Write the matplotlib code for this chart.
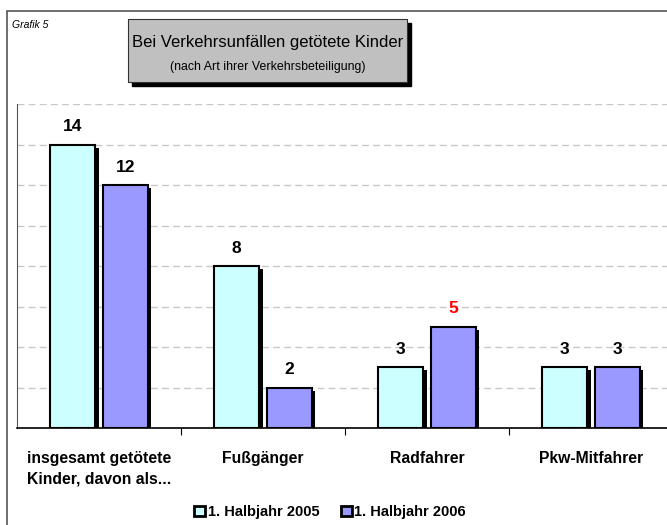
import matplotlib
matplotlib.use("Agg")
import matplotlib.pyplot as plt
import matplotlib.patheffects as pe
from matplotlib.patches import Rectangle
import numpy as np

categories = ["insgesamt getötete\nKinder, davon als...", "Fußgänger", "Radfahrer", "Pkw-Mitfahrer"]
values_2005 = [14, 8, 3, 3]
values_2006 = [12, 2, 5, 3]
series_names = ["1. Halbjahr 2005", "1. Halbjahr 2006"]
label_colors_2006 = ["black", "black", "red", "black"]

plt.rcParams['font.family'] = ['Liberation Sans', 'DejaVu Sans']

W, H = 667, 525
fig = plt.figure(figsize=(W / 100, H / 100), dpi=100)

# outer frame (cropped at right and bottom)
fig.add_artist(Rectangle((7 / W, -0.1), 1.2, 1 - 11 / H + 0.1, transform=fig.transFigure,
                         fill=False, edgecolor='#555555', linewidth=1.2))

fig.text(12 / W, 1 - 25 / H, "Grafik 5", fontsize=7.5, style='italic', va='center', ha='left')

# title box with shadow
bx0, by0, bx1, by1 = 128, 19, 407, 82
fig.add_artist(Rectangle(((bx0 + 4) / W, 1 - (by1 + 4) / H), (bx1 - bx0) / W, (by1 - by0) / H,
                         transform=fig.transFigure, facecolor='black', edgecolor='black'))
fig.add_artist(Rectangle((bx0 / W, 1 - by1 / H), (bx1 - bx0) / W, (by1 - by0) / H,
                         transform=fig.transFigure, facecolor='#c0c0c0', edgecolor='#333333', linewidth=0.8))
fig.text((bx0 + bx1) / 2 / W, 1 - 42 / H, "Bei Verkehrsunfällen getötete Kinder",
         fontsize=12, ha='center', va='center')
fig.text((bx0 + bx1) / 2 / W, 1 - 67 / H, "(nach Art ihrer Verkehrsbeteiligung)",
         fontsize=8.9, ha='center', va='center')

ax_left, ax_right, ax_top, ax_bot = 17, 673, 104, 428
ax = fig.add_axes([ax_left / W, 1 - ax_bot / H, (ax_right - ax_left) / W, (ax_bot - ax_top) / H])

x = np.arange(len(categories))
bw = 0.275
off = 0.16
shadow = [pe.SimplePatchShadow(offset=(2.3, -2.3), shadow_rgbFace='black', alpha=1), pe.Normal()]
b1 = ax.bar(x - off, values_2005, bw, color='#CCFFFF', edgecolor='black', linewidth=1.5, zorder=3)
b2 = ax.bar(x + off, values_2006, bw, color='#9999FF', edgecolor='black', linewidth=1.5, zorder=3)
for b in list(b1) + list(b2):
    b.set_path_effects(shadow)

for i, v in enumerate(values_2005):
    ax.text(x[i] - off, v + 0.88, str(v), ha='center', va='center', fontsize=12.5, fontweight='bold')
for i, v in enumerate(values_2006):
    ax.text(x[i] + off, v + 0.88, str(v), ha='center', va='center', fontsize=12.5,
            fontweight='bold', color=label_colors_2006[i])

ax.set_xlim(-0.5, len(categories) - 0.5)
ax.set_ylim(0, 16)
ax.set_yticks(np.arange(2, 17, 2))
ax.yaxis.grid(True, linestyle=(0, (5, 3)), color='#c8c8c8', linewidth=1)
ax.tick_params(axis='y', left=False, labelleft=False)
ax.set_xticks(np.arange(0.5, len(categories) - 0.5, 1))
ax.set_xticklabels([])
ax.tick_params(axis='x', direction='out', length=5, width=0.8)
for s in ['top', 'right']:
    ax.spines[s].set_visible(False)
ax.spines['left'].set_color('#555555')
ax.spines['bottom'].set_linewidth(1.2)

for i, c in enumerate(categories):
    ax.text(x[i], -1.12, c, ha='center', va='top', fontsize=11.3, fontweight='bold',
            multialignment='left', linespacing=1.45)

leg = fig.legend([b1, b2], series_names, loc='center', bbox_to_anchor=(0.495, 1 - 512 / H),
                 ncol=2, frameon=False, prop={'weight': 'bold', 'size': 10.5},
                 handlelength=0.75, handleheight=0.75, handletextpad=0.15, columnspacing=1.5)
for h in leg.legend_handles:
    h.set_path_effects([])
    h.set_linewidth(2)

fig.savefig("out.png", dpi=100)
